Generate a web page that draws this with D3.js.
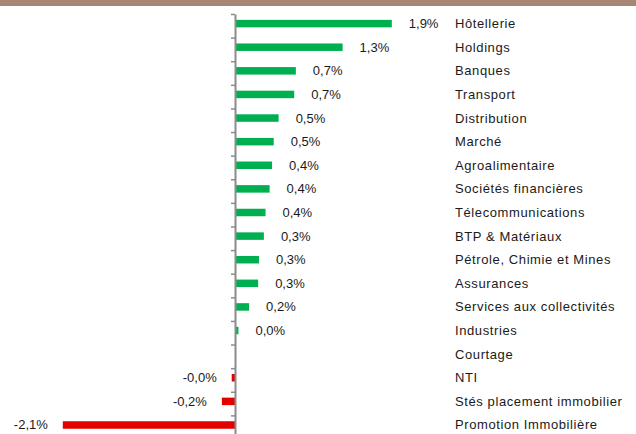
<!DOCTYPE html>
<html>
<head>
<meta charset="utf-8">
<script src="https://cdn.jsdelivr.net/npm/d3@7"></script>
<style>
  body { margin: 0; background: #fff; }
  text { font-family: "Liberation Sans", Arial, sans-serif; fill: #1a1a1a; }
</style>
</head>
<body>
<script>
// secteurs et variations (%)
const sectors = [
    "Hôtellerie", "Holdings", "Banques", "Transport", "Distribution", "Marché",
    "Agroalimentaire", "Sociétés financières", "Télecommunications", "BTP & Matériaux",
    "Pétrole, Chimie et Mines", "Assurances", "Services aux collectivités", "Industries",
    "Courtage", "NTI", "Stés placement immobilier", "Promotion Immobilière"
]
const changes = [
    1.90, 1.30, 0.73, 0.71, 0.52, 0.46,
    0.44, 0.41, 0.36, 0.34,
    0.28, 0.27, 0.16, 0.03,
    null, -0.04, -0.16, -2.10
]
const xDomain = [-2.1, 1.9]

const width = 636
const height = 434

const svg = d3.select("body")
    .append("svg")
    .attr("width", width)
    .attr("height", height)

// bandeau du haut
svg.append("rect")
    .attr("x", 0).attr("y", 0)
    .attr("width", width).attr("height", 6)
    .attr("fill", "#a88676")

const data = sectors.map((s, i) => ({ name: s, v: changes[i] }))

const x = d3.scaleLinear().domain(xDomain).range([62.8, 390.8])
const y = d3.scaleBand().domain(sectors).range([13, 438]).paddingInner(0)
const bh = 7.5
const mid = (d) => y(d.name) + y.bandwidth() / 2 - 1.2

const fmt = (v) => v.toFixed(1).replace(".", ",") + "%"

svg.append("g")
    .selectAll("rect")
    .data(data.filter((d) => d.v !== null))
    .join("rect")
    .attr("x", (d) => d.v >= 0 ? x(0) + 1 : x(d.v))
    .attr("width", (d) => Math.abs(x(d.v) - x(0)))
    .attr("y", (d) => mid(d) - bh / 2)
    .attr("height", bh)
    .attr("fill", (d) => d.v >= 0 ? "#00b050" : "#e30000")

// axe vertical et graduations entre les catégories
const axis = svg.append("g")
axis.append("line")
    .attr("x1", x(0) + 0.5).attr("x2", x(0) + 0.5)
    .attr("y1", y(sectors[0]) + 1.5).attr("y2", height + 10)
    .attr("stroke", "#8c8c8c")
    .attr("stroke-width", 2)
axis.selectAll("line.tick")
    .data(sectors)
    .join("line")
    .attr("class", "tick")
    .attr("x1", x(0) - 4).attr("x2", x(0))
    .attr("y1", (d) => y(d) + 1.5).attr("y2", (d) => y(d) + 1.5)
    .attr("stroke", "#8c8c8c")
    .attr("stroke-width", 1.5)

// étiquettes de valeurs
svg.append("g")
    .selectAll("text")
    .data(data.filter((d) => d.v !== null))
    .join("text")
    .attr("x", (d) => d.v >= 0 ? x(d.v) + 18 : x(d.v) - 15)
    .attr("y", (d) => mid(d) + 4.5)
    .attr("text-anchor", (d) => d.v >= 0 ? "start" : "end")
    .style("font-size", "13px")
    .text((d) => fmt(d.v))

// noms des secteurs
svg.append("g")
    .selectAll("text")
    .data(data)
    .join("text")
    .attr("x", 455)
    .attr("y", (d) => mid(d) + 4.5)
    .style("font-size", "13px")
    .style("letter-spacing", "0.6px")
    .text((d) => d.name)
</script>
</body>
</html>
